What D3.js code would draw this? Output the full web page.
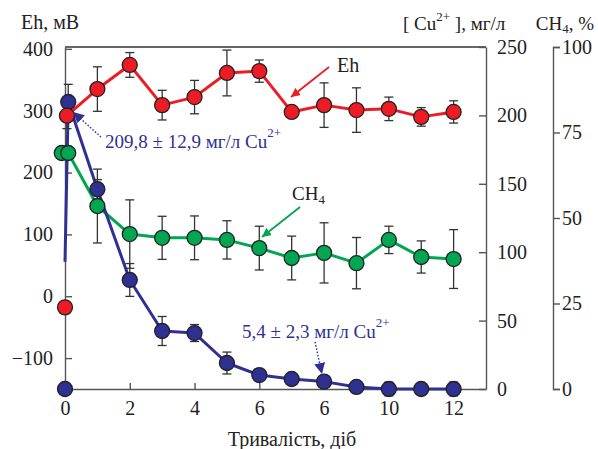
<!DOCTYPE html>
<html>
<head>
<meta charset="utf-8">
<script src="https://cdn.jsdelivr.net/npm/d3@7"></script>
<style>
	body { margin: 0; background: #fff; }
	svg text { font-family: "Liberation Serif", "Tinos", "Times New Roman", "Noto Serif", "DejaVu Serif", "FreeSerif", serif; fill: #222; }
</style>
</head>
<body>
<svg id="chart" width="598" height="449"></svg>
<script>
// days of the experiment and axis labels (the "6" under 8 is as in the original)
var days = [0, 1, 2, 3, 4, 5, 6, 7, 8, 9, 10, 11, 12];
var dayTicks = [0, 2, 4, 6, 8, 10, 12];
var dayTickLabels = ["0", "2", "4", "6", "6", "10", "12"];
var ehTicks = [-100, 0, 100, 200, 300, 400];
var cuTicks = [0, 50, 100, 150, 200, 250];
var ch4Ticks = [0, 25, 50, 75, 100];

// Eh, mV
var ehValues = [292, 335, 374, 309, 322, 361, 364, 298, 309, 301, 303, 290, 298];
var ehErrors = [21, 36, 20, 24, 27, 37, 18, 8, 36, 36, 19, 15, 18];
var ehStart = -18;

// CH4, %
var ch4Values = [69, 53.5, 45.3, 44.2, 44.2, 43.6, 41.2, 38.3, 39.8, 36.8, 43.6, 38.6, 38.0];
var ch4Errors = [0, 10.8, 10, 6.3, 6.4, 5.6, 6.4, 6.4, 8.8, 7.5, 4, 4.7, 8.6];

// Cu2+, mg/l
var cuValues = [209.8, 146, 79.7, 42.4, 40.9, 19, 10.2, 7.3, 5.4, 1.5, 0, 0, 0];
var cuErrors = [12.9, 7, 12, 10.6, 6.2, 8, 0, 0, 2.3, 0, 5, 0, 5];
var cuStart = 0;
var cuLineStart = 93;

var RED = "#ed1c24", GREEN = "#00a651", BLUE = "#2e3192", AXIS = "#555";

var svg = d3.select("#chart");

var x = d3.scaleLinear().domain([0, 13]).range([65, 486]);
var yEh = d3.scaleLinear().domain([-150, 403]).range([389, 47]);
var yCu = d3.scaleLinear().domain([0, 250]).range([389, 47]);
var yCh4 = d3.scaleLinear().domain([0, 100]).range([389, 47]);

// day 0 points sit a little apart in the original
var shift = 0.1;

function styleAxis(g) {
	g.attr("font-family", null).attr("font-size", null);
	g.selectAll("path, line").attr("stroke", AXIS).attr("stroke-width", 1.4);
	g.selectAll("text").attr("font-size", 20).attr("fill", "#222");
}

// frame top
svg.append("line")
	.attr("x1", x(0)).attr("x2", x(13))
	.attr("y1", yEh(403)).attr("y2", yEh(403))
	.attr("stroke", "#333").attr("stroke-width", 1.3);

svg.append("g")
	.attr("transform", "translate(" + x(0) + ",0)")
	.call(d3.axisLeft(yEh).tickValues(ehTicks).tickSize(-7).tickSizeOuter(0).tickPadding(12))
	.call(styleAxis);

svg.append("g")
	.attr("transform", "translate(0," + yEh(-150) + ")")
	.call(d3.axisBottom(x).tickValues(dayTicks).tickSize(-6).tickSizeOuter(0).tickPadding(12)
		.tickFormat(function(d, i) { return dayTickLabels[i]; }))
	.call(styleAxis);

svg.append("g")
	.attr("transform", "translate(" + x(13) + ",0)")
	.call(d3.axisRight(yCu).tickValues(cuTicks).tickSize(-7).tickSizeOuter(0).tickPadding(11))
	.call(styleAxis);

svg.append("g")
	.attr("transform", "translate(553,0)")
	.call(d3.axisRight(yCh4).tickValues(ch4Ticks).tickSize(7).tickSizeOuter(7).tickPadding(2))
	.call(styleAxis);

// axis titles
svg.append("text").attr("x", 21).attr("y", 29).attr("font-size", 20).text("Eh, мВ");

var cuTitle = svg.append("text").attr("x", 403).attr("y", 30).attr("font-size", 19);
cuTitle.append("tspan").text("[ Cu");
cuTitle.append("tspan").attr("font-size", 13).attr("dy", -9).text("2+");
cuTitle.append("tspan").attr("dy", 9).text(" ], мг/л");

var ch4Title = svg.append("text").attr("x", 594).attr("y", 30).attr("font-size", 19).attr("text-anchor", "end");
ch4Title.append("tspan").text("CH");
ch4Title.append("tspan").attr("font-size", 13).attr("dy", 3).text("4");
ch4Title.append("tspan").attr("dy", -3).text(", %");

svg.append("text")
	.attr("x", 292).attr("y", 446)
	.attr("text-anchor", "middle")
	.attr("font-size", 20)
	.text("Тривалість, діб");

// series: [{day, v, e}]
function series(vals, errs, first) {
	return vals.map(function(v, i) {
		return { day: i === 0 ? first : days[i], v: v, e: errs[i] };
	});
}

var eh = series(ehValues, ehErrors, shift * 0.6);
var ch4 = series(ch4Values, ch4Errors, shift);
var cu = series(cuValues, cuErrors, shift);

var plot = svg.append("g");

function drawLine(data, y, color, lead) {
	var pts = (lead ? [lead] : []).concat(data);
	plot.append("path")
		.datum(pts)
		.attr("fill", "none")
		.attr("stroke", color)
		.attr("stroke-width", 3)
		.attr("stroke-linejoin", "round")
		.attr("d", d3.line()
			.x(function(d) { return x(d.day); })
			.y(function(d) { return y(d.v); }));
}

drawLine(ch4, yCh4, GREEN);
drawLine(cu, yCu, BLUE, { day: 0, v: cuLineStart });
drawLine(eh, yEh, RED);

function drawErrors(data, y) {
	var g = plot.append("g").attr("stroke", "#333").attr("stroke-width", 1.3);
	var withErr = data.filter(function(d) { return d.e > 0; });
	g.selectAll(".bar").data(withErr).enter().append("line")
		.attr("x1", function(d) { return x(d.day); })
		.attr("x2", function(d) { return x(d.day); })
		.attr("y1", function(d) { return y(d.v - d.e); })
		.attr("y2", function(d) { return y(d.v + d.e); });
	[-1, 1].forEach(function(s) {
		g.selectAll(".cap" + s).data(withErr).enter().append("line")
			.attr("x1", function(d) { return x(d.day) - 4.5; })
			.attr("x2", function(d) { return x(d.day) + 4.5; })
			.attr("y1", function(d) { return y(d.v + s * d.e); })
			.attr("y2", function(d) { return y(d.v + s * d.e); });
	});
}

drawErrors(ch4, yCh4);
drawErrors(cu, yCu);
drawErrors(eh, yEh);

function drawDots(data, y, color) {
	plot.append("g").selectAll("circle")
		.data(data)
		.enter()
		.append("circle")
		.attr("cx", function(d) { return x(d.day); })
		.attr("cy", function(d) { return y(d.v); })
		.attr("r", 7.5)
		.attr("fill", color)
		.attr("stroke", "#222")
		.attr("stroke-width", 1.3);
}

drawDots([{ day: -shift, v: ch4Values[0] }].concat(ch4), yCh4, GREEN);
drawDots([{ day: 0, v: cuStart }].concat(cu), yCu, BLUE);
drawDots([{ day: 0, v: ehStart }].concat(eh), yEh, RED);

// arrows and notes
var defs = svg.append("defs");
[["red", RED, 5, "strokeWidth"], ["green", GREEN, 5, "strokeWidth"], ["blue", BLUE, 11, "userSpaceOnUse"]].forEach(function(m) {
	defs.append("marker")
		.attr("id", "arrow-" + m[0])
		.attr("viewBox", "0 0 10 10")
		.attr("refX", 10).attr("refY", 5)
		.attr("markerWidth", m[2])
		.attr("markerHeight", m[2])
		.attr("markerUnits", m[3])
		.attr("orient", "auto")
		.append("path")
		.attr("d", "M0,0L10,5L0,10z")
		.attr("fill", m[1]);
});

function arrow(x1, y1, x2, y2, color, name, dotted) {
	var a = svg.append("line")
		.attr("x1", x1).attr("y1", y1).attr("x2", x2).attr("y2", y2)
		.attr("stroke", color)
		.attr("stroke-width", dotted ? 1.4 : 1.8)
		.attr("marker-end", "url(#arrow-" + name + ")");
	if (dotted) a.attr("stroke-dasharray", "1.5,1.8");
}

arrow(329, 67, 291, 97, RED, "red");
svg.append("text").attr("x", 337).attr("y", 72).attr("font-size", 20).text("Eh");

arrow(300, 207, 262, 237, GREEN, "green");
var ch4Note = svg.append("text").attr("x", 292).attr("y", 200).attr("font-size", 19);
ch4Note.append("tspan").text("CH");
ch4Note.append("tspan").attr("font-size", 13).attr("dy", 4).text("4");

arrow(101, 137, 73, 112, BLUE, "blue", true);
var cuNote1 = svg.append("text").attr("x", 105).attr("y", 148).attr("font-size", 19).style("fill", BLUE);
cuNote1.append("tspan").style("fill", BLUE).text("209,8 ± 12,9 мг/л Cu");
cuNote1.append("tspan").style("fill", BLUE).attr("font-size", 13).attr("dy", -11).text("2+");

arrow(315, 342, 322, 374, BLUE, "blue", true);
var cuNote2 = svg.append("text").attr("x", 242).attr("y", 338).attr("font-size", 19).style("fill", BLUE);
cuNote2.append("tspan").style("fill", BLUE).text("5,4 ± 2,3 мг/л Cu");
cuNote2.append("tspan").style("fill", BLUE).attr("font-size", 13).attr("dy", -11).text("2+");
</script>
</body>
</html>
